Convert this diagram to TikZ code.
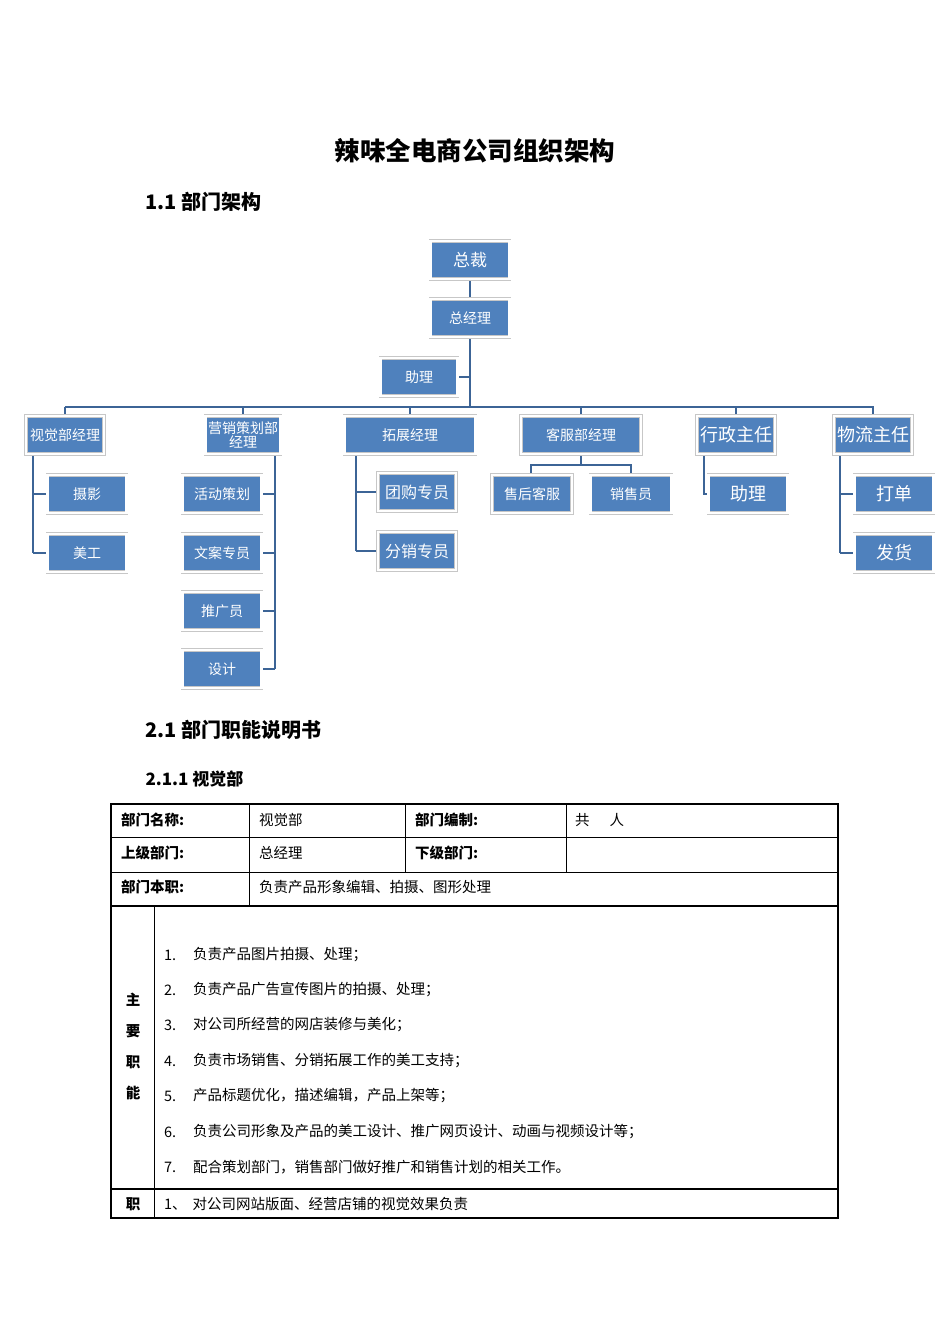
\documentclass[tikz,border=0pt]{standalone}
\usepackage{fontspec}
\setmainfont{Noto Sans CJK SC}
\definecolor{bx}{HTML}{4F81BD}
\definecolor{ln}{HTML}{3C6496}
\begin{document}
\begin{tikzpicture}[x=1pt,y=-1pt,
  ob/.style={fill=bx,draw=black!22,double=white,double distance=2.4pt,line width=0.6pt,text=white,minimum height=38pt,inner sep=1pt,font=\fontsize{14}{15}\selectfont,align=center},
  cn/.style={draw=ln,line width=2.2pt},
  tx/.style={anchor=west,font=\fontsize{14.5}{16}\selectfont,inner sep=0pt},
  tb/.style={anchor=west,font=\bfseries\fontsize{14.5}{16}\selectfont,inner sep=0pt}]
\useasboundingbox (0,0) rectangle (950,1344);
% title
\node[font=\bfseries\fontsize{25.5}{27}\selectfont] (title) at (475,151) {辣味全电商公司组织架构};
\node[anchor=west,font=\bfseries\fontsize{20}{22}\selectfont] (h1) at (142,202) {1.1 部门架构};
% connectors first
\coordinate (bus) at (470,407);
\draw[cn] (470,260) -- (bus);
\draw[cn] (65,407) -- (874,407);
\foreach \x in {65,243,410,581,736,873}{\draw[cn] (\x,407) -- (\x,435);}
\draw[cn] (419,377) -- (470,377);
\draw[cn] (33,435) -- (33,553) (33,494) -- (87,494) (33,553) -- (87,553);
\draw[cn] (275,435) -- (275,669);
\foreach \y in {494,553,611,669}{\draw[cn] (222,\y) -- (275,\y);}
\draw[cn] (356,435) -- (356,551) (356,492) -- (417,492) (356,551) -- (417,551);
\draw[cn] (581,435) -- (581,465) (531,494) -- (531,465) -- (631,465) -- (631,494);
\draw[cn] (704,435) -- (704,494) -- (748,494);
\draw[cn] (840,435) -- (840,553) (840,494) -- (894,494) (840,553) -- (894,553);
% boxes
\node[ob,minimum width=79pt,font=\fontsize{17}{18}\selectfont] (zc) at (470,260) {总裁};
\node[ob,minimum width=79pt] (zjl) at (470,318) {总经理};
\node[ob,minimum width=77pt] (zl) at (419,377) {助理};
\node[ob,minimum width=78pt] (sj) at (65,435) {视觉部经理};
\node[ob,minimum width=75pt,font=\fontsize{14}{14.5}\selectfont] (yx) at (243,435) {营销策划部\\经理};
\node[ob,minimum width=131pt] (tz) at (410,435) {拓展经理};
\node[ob,minimum width=120pt] (kf) at (581,435) {客服部经理};
\node[ob,minimum width=78pt,font=\fontsize{18}{19}\selectfont] (xz) at (736,435) {行政主任};
\node[ob,minimum width=78pt,font=\fontsize{18}{19}\selectfont] (wl) at (873,435) {物流主任};
\node[ob,minimum width=79pt] (sy) at (87,494) {摄影};
\node[ob,minimum width=79pt] (mg) at (87,553) {美工};
\node[ob,minimum width=79pt] (hd) at (222,494) {活动策划};
\node[ob,minimum width=79pt] (wa) at (222,553) {文案专员};
\node[ob,minimum width=79pt] (tg) at (222,611) {推广员};
\node[ob,minimum width=79pt] (shj) at (222,669) {设计};
\node[ob,minimum width=78pt,font=\fontsize{16}{17}\selectfont] (tgz) at (417,492) {团购专员};
\node[ob,minimum width=78pt,font=\fontsize{16}{17}\selectfont] (fx) at (417,551) {分销专员};
\node[ob,minimum width=80pt] (sh) at (532,494) {售后客服};
\node[ob,minimum width=81pt] (xs) at (631,494) {销售员};
\node[ob,minimum width=79pt,font=\fontsize{18}{19}\selectfont] (zl2) at (748,494) {助理};
\node[ob,minimum width=79pt,font=\fontsize{18}{19}\selectfont] (dd) at (894,494) {打单};
\node[ob,minimum width=79pt,font=\fontsize{18}{19}\selectfont] (fh) at (894,553) {发货};
% section headings
\node[anchor=west,font=\bfseries\fontsize{20}{22}\selectfont] (h2) at (142,730) {2.1 部门职能说明书};
\node[anchor=west,font=\bfseries\fontsize{17}{19}\selectfont] (h3) at (142,779) {2.1.1 视觉部};
% table
\draw[line width=0.6pt] (111,837) -- (838,837) (111,872) -- (838,872);
\draw[line width=0.6pt] (249,804) -- (249,906) (405,804) -- (405,872) (566,804) -- (566,872);
\draw[line width=0.6pt] (154,906) -- (154,1218);
\draw[line width=1.6pt] (111,906) -- (838,906) (111,1189) -- (838,1189);
\draw[line width=2pt] (111,804) rectangle (838,1218);
\node[tb] (c1) at (121,820) {部门名称:};
\node[tx] (c2) at (259,820) {视觉部};
\node[tb] (c3) at (415,820) {部门编制:};
\node[tx] (c4) at (575,820) {共\hspace{20pt}人};
\node[tb] (c5) at (121,853) {上级部门:};
\node[tx] (c6) at (259,853) {总经理};
\node[tb] (c7) at (415,853) {下级部门:};
\node[tb] (c8) at (121,887) {部门本职:};
\node[tx] (c9) at (259,887) {负责产品形象编辑、拍摄、图形处理};
\foreach \t/\y in {主/1000,要/1031,职/1062,能/1093}{\node[font=\bfseries\fontsize{14.5}{16}\selectfont,inner sep=0pt] at (133,\y) {\t};}
\foreach \n/\t/\y in {1/负责产品图片拍摄、处理；/955,2/负责产品广告宣传图片的拍摄、处理；/990,3/对公司所经营的网店装修与美化；/1025,4/负责市场销售、分销拓展工作的美工支持；/1061,5/产品标题优化，描述编辑，产品上架等；/1096,6/负责公司形象及产品的美工设计、推广网页设计、动画与视频设计等；/1132,7/配合策划部门，销售部门做好推广和销售计划的相关工作。/1167}{
  \node[tx] at (164,\y) {\n.};
  \node[tx] at (193,\y) {\t};}
\node[font=\bfseries\fontsize{14.5}{16}\selectfont,inner sep=0pt] (z) at (133,1204) {职};
\node[tx] (last) at (164,1204) {1、\hspace{6pt}对公司网站版面、经营店铺的视觉效果负责};
\end{tikzpicture}
\end{document}
